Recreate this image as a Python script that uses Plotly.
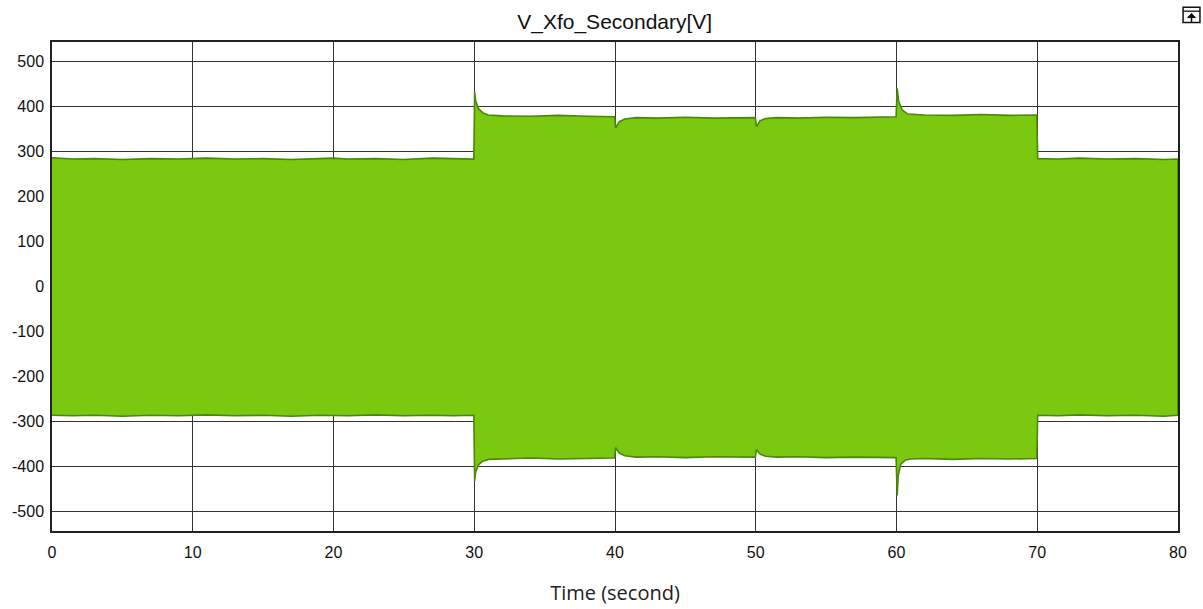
import plotly.graph_objects as go

# Envelope of the transformer secondary voltage (peak values, volts)
t_upper = [0, 1.5, 3, 5, 7, 9, 11, 13, 15, 17, 19, 20, 21, 23, 25, 27, 28.5, 29.97,
           30.03, 30.1, 30.3, 30.6, 31, 32, 34, 36, 38, 39.97,
           40.05, 40.3, 40.7, 41.5, 43, 45, 47, 49.97,
           50.05, 50.3, 50.7, 51.5, 53, 55, 57, 59.97,
           60.05, 60.15, 60.4, 60.8, 62, 64, 66, 68, 69.97,
           70.03, 71.5, 73, 75, 77, 79, 80]
v_upper = [286, 283, 284, 282, 284, 283, 285, 283, 284, 282, 284, 285, 283, 284, 282, 285, 284, 283,
           432, 412, 395, 386, 381, 379, 378, 380, 378, 377,
           352, 366, 372, 375, 374, 376, 374, 375,
           355, 368, 373, 375, 374, 376, 375, 377,
           440, 412, 392, 383, 381, 380, 382, 380, 381,
           284, 283, 285, 283, 284, 282, 283]

t_lower = [0, 1.5, 3, 5, 7, 9, 11, 13, 15, 17, 19, 21, 23, 25, 27, 28.5, 29.97,
           30.03, 30.1, 30.3, 30.6, 31, 32, 34, 36, 38, 39.97,
           40.05, 40.3, 40.7, 41.5, 43, 45, 47, 49.97,
           50.05, 50.3, 50.7, 51.5, 53, 55, 57, 59.97,
           60.05, 60.12, 60.3, 60.6, 61, 62, 64, 66, 68, 69.97,
           70.03, 71.5, 73, 75, 77, 79, 80]
v_lower = [-286, -287, -286, -288, -286, -287, -285, -287, -286, -288, -286, -287, -285, -287, -286, -287, -286,
           -432, -412, -396, -388, -384, -383, -381, -383, -382, -381,
           -358, -370, -376, -379, -378, -380, -378, -379,
           -362, -372, -377, -379, -378, -380, -379, -380,
           -464, -420, -395, -386, -383, -382, -384, -382, -383, -382,
           -286, -287, -285, -287, -286, -288, -286]

x_ticks = [0, 10, 20, 30, 40, 50, 60, 70, 80]
y_ticks = [-500, -400, -300, -200, -100, 0, 100, 200, 300, 400, 500]
y_tick_text = [str(v) for v in y_ticks]

# closed polygon: upper edge forward, lower edge back
poly_x = t_upper + t_lower[::-1]
poly_y = v_upper + v_lower[::-1]

fig = go.Figure()
fig.add_trace(go.Scatter(
    x=poly_x, y=poly_y, mode="lines", fill="toself",
    fillcolor="#7ac80f", line=dict(color="#4a870a", width=1.6),
    hoverinfo="skip", showlegend=False,
))

axis_common = dict(
    showline=True, linecolor="#222", linewidth=1.5, mirror=True,
    showgrid=True, gridcolor="#333", gridwidth=1.2,
    zeroline=False, ticks="", ticklen=0, automargin=False,
    tickfont=dict(family="Liberation Sans, Arial, sans-serif", size=16, color="#111"),
)

fig.update_xaxes(range=[0, 80], tickvals=x_ticks, ticktext=[str(v) for v in x_ticks],
                 ticklabelstandoff=6,
                 title=dict(text="Time (second)", standoff=26,
                            font=dict(family="Open Sans, sans-serif", size=20, color="#222")),
                 **axis_common)
fig.update_yaxes(range=[-543, 543], tickvals=y_ticks, ticktext=y_tick_text,
                 ticklabelstandoff=3, **axis_common)

# small export icon in the top-right corner
icon_shapes = [
    dict(type="rect", xref="paper", yref="paper", x0=1.0045, x1=1.0195, y0=1.040, y1=1.071,
         line=dict(color="#111", width=1.5), fillcolor="white"),
    dict(type="line", xref="paper", yref="paper", x0=1.0045, x1=1.0195, y0=1.063, y1=1.063,
         line=dict(color="#111", width=1.3)),
    dict(type="line", xref="paper", yref="paper", x0=1.012, x1=1.012, y0=1.040, y1=1.058,
         line=dict(color="#111", width=1.5)),
    dict(type="path", xref="paper", yref="paper",
         path="M 1.0085 1.050 L 1.012 1.058 L 1.0155 1.050 Z",
         line=dict(color="#111", width=1), fillcolor="#111"),
]

fig.update_layout(
    width=1203, height=609,
    margin=dict(l=52, r=25, t=42, b=78),
    paper_bgcolor="white", plot_bgcolor="white",
    title=dict(text="V_Xfo_Secondary[V]", x=0.511, xanchor="center", y=0.964, yanchor="middle",
               font=dict(family="Liberation Sans, Arial, sans-serif", size=21, color="#111")),
    shapes=icon_shapes,
)

fig.write_html("out.html")
